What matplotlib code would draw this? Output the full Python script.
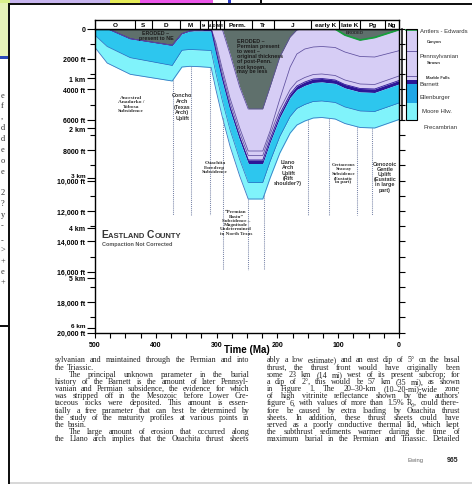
import numpy as np
import matplotlib
matplotlib.use("Agg")
import matplotlib.pyplot as plt
from matplotlib.patches import Rectangle
from matplotlib.lines import Line2D
import matplotlib.transforms as mtransforms
from matplotlib.ticker import FixedLocator, NullFormatter

# ------------------------------------------------------------------ data
time_ma = [500, 480, 442, 373, 357, 344, 327, 309, 301, 291, 278, 262, 248,
           224, 212, 196, 179, 168, 155, 141, 127, 105, 89, 64, 40, 0]
top_preserved_ft = [0, 0, 670, 1105, 342, 164, 100, 0, 0, 0, 1678, 3849, 5296,
                    5296, 3849, 1875, 560, 100, 0, 0, 0, 30, 428, 757, 592, 80]
canyon_base_ft = [0, 0, 670, 1105, 342, 164, 100, 0, 954, 2599, 4572, 6546, 8059,
                  8059, 6743, 4638, 2533, 1678, 1349, 1217, 1184, 1250, 1546, 1842, 1875, 1461]
strawn_base_ft = [0, 0, 670, 1105, 342, 164, 100, 0, 1184, 2895, 4868, 6842, 8355,
                  8355, 6974, 5329, 4013, 3487, 3224, 3026, 2993, 3092, 3388, 3651, 3684, 3125]
barnett_top_ft = [0, 0, 670, 1105, 342, 164, 100, 0, 1480, 3191, 5164, 7138, 8651,
                  8651, 7270, 5625, 4309, 3783, 3520, 3322, 3289, 3388, 3684, 3947, 3980, 3421]
barnett_base_ft = [0, 0, 670, 1105, 342, 164, 164, 164, 1711, 3421, 5395, 7368, 8882,
                   8882, 7500, 5855, 4539, 4013, 3750, 3553, 3520, 3618, 3914, 4178, 4211, 3651]
ellenburger_base_ft = [447, 1184, 1921, 2434, 1434, 1382, 1414, 1447, 2961, 4671, 6645, 8618, 10132,
                       10132, 8750, 7105, 5789, 5263, 5000, 4803, 4770, 4868, 5164, 5428, 5461, 4901]
moore_hollow_base_ft = [1250, 2270, 3013, 3454, 2533, 2487, 2513, 2566, 4046, 5757, 7730, 9704, 11217,
                        11217, 9836, 8191, 6875, 6349, 6086, 5888, 5855, 5954, 6250, 6513, 6546, 5987]

period_bounds_ma = [500, 435, 407, 360, 327, 314, 308, 301, 294, 288, 242, 206, 144, 99, 64, 23, 0]
period_labels = ["O", "S", "D", "M", "Mr", "A", "D", "M", "V", "Perm.", "Tr", "J",
                 "early K", "late K", "Pg", "Ng"]

event_ma = [372, 342, 311, 290, 248, 222, 150, 115, 69, 44]
event_base_ft = [12300, 12300, 12300, 15900, 15900, 15900, 12300, 12300, 12300, 12300]

ft_ticks = list(range(0, 20001, 2000))
ft_labels = ["0"] + ["%d ft" % v if v < 10000 else "{:,} ft".format(v) for v in ft_ticks[1:]]
km_ticks = [1, 2, 3, 4, 5, 6]
time_ticks = [500, 400, 300, 200, 100, 0]

strat_names = ["Antlers - Edwards", "Canyon", "Pennsylvanian", "Strawn", "Marble Falls",
               "Barnett", "Ellenburger", "Moore Hlw.", "Precambrian"]

left_col = [
    "sylvanian and maintained through the Permian and into",
    "the Triassic.",
    "The principal unknown parameter in the burial",
    "history of the Barnett is the amount of later Pennsyl-",
    "vanian and Permian subsidence, the evidence for which",
    "was stripped off in the Mesozoic before Lower Cre-",
    "taceous rocks were deposited. This amount is essen-",
    "tially a free parameter that can best be determined by",
    "the study of the maturity profiles at various points in",
    "the basin.",
    "The large amount of erosion that occurred along",
    "the Llano arch implies that the Ouachita thrust sheets",
]
right_col = [
    "ably a low estimate) and an east dip of 5\u00b0 on the basal",
    "thrust, the thrust front would have originally been",
    "some 23 km (14 mi) west of its present subcrop; for",
    "a dip of 2\u00b0, this would be 57 km (35 mi), as shown",
    "in Figure 1. The 20\u201330-km (10\u201320-mi)-wide zone",
    "of high vitrinite reflectance shown by the authors'",
    "figure 6, with values of more than 1.5% R\u2080, could there-",
    "fore be caused by extra loading by Ouachita thrust",
    "sheets. In addition, these thrust sheets could have",
    "served as a poorly conductive thermal lid, which kept",
    "the subthrust sediments warmer during the time of",
    "maximum burial in the Permian and Triassic. Detailed",
]

# ------------------------------------------------------------------ style
W, H = 472, 485
GRAY = "#5f706c"
LAV = "#d6cdf5"
LAVLINE = "#5e4f9e"
BARN = "#2c1697"
CYAN = "#2dc6ee"
LCYAN = "#80f3fb"
LEG_CYAN = "#1fa6e6"
GREEN = "#17a03c"
DOT = "#7884a8"
SANS = ["Liberation Sans", "DejaVu Sans"]
SERIF = ["Liberation Serif", "DejaVu Serif"]
TXT = "#222222"

fig = plt.figure(figsize=(W / 100, H / 100), dpi=100)
fig.patch.set_facecolor("white")


def fx(x):
    return x / W


def fy(y):
    return 1 - y / H


def prect(x, y, w, h, color, z=0):
    fig.add_artist(Rectangle((fx(x), fy(y + h)), w / W, h / H, transform=fig.transFigure,
                             facecolor=color, edgecolor="none", zorder=z))


# ------------------------------------------------------------------ background decorations
prect(0, 0, 10, 4, "#d9ef8c")
prect(10, 0, 100, 4, "#c7b5ef")
prect(110, 0, 30, 4, "#e6ec58")
prect(140, 0, 73, 4, "#ec58ea")
prect(228, 0, 3, 4, "#2a3bc8")
prect(260, 0, 2, 4, "#111111")
prect(0, 4, 8, 53, "#e6f2b8")
prect(0, 57, 8, 2.5, "#2a47b8")
prect(0, 325.5, 8, 2, "#111111")
prect(8, 4, 464, 2, "#111111", z=5)
prect(8, 4, 2, 481, "#111111", z=5)
prect(10, 483, 462, 2, "#d8d8d8")
for yy, ch in [(96, "e"), (106, "f"), (117, ","), (128, "d"), (139, "d"), (150, "e"),
               (161, "o"), (172, "e"), (193, "2"), (204, "?"), (215, "y"), (226, "-"),
               (241, "-"), (251, ">"), (261, "+"), (272, "e"), (282, "+")]:
    fig.text(fx(1), fy(yy), ch, fontsize=6, family=SERIF, color="#333333", va="center", ha="left")

# ------------------------------------------------------------------ main axes
ax_l, ax_r, ax_t, ax_b = 95, 399, 29.5, 333.5
ax = fig.add_axes([fx(ax_l), fy(ax_b), (ax_r - ax_l) / W, (ax_b - ax_t) / H])
ax.set_xlim(500, 0)
ax.set_ylim(20000, 0)
ax.set_facecolor("white")

t = np.array(time_ma, float)
h0 = np.array(top_preserved_ft, float)
h1 = np.array(canyon_base_ft, float)
h2 = np.array(strawn_base_ft, float)
h3 = np.array(barnett_top_ft, float)
h4 = np.array(barnett_base_ft, float)
h5 = np.array(ellenburger_base_ft, float)
h6 = np.array(moore_hollow_base_ft, float)

ax.fill_between(t, 0, h0, color=GRAY, lw=0, zorder=1)
ax.fill_between(t, h0, h3, color=LAV, lw=0, zorder=1)
ax.fill_between(t, h3, h4, color=BARN, lw=0, zorder=1)
ax.fill_between(t, h4, h5, color=CYAN, lw=0, zorder=1)
ax.fill_between(t, h5, h6, color=LCYAN, lw=0, zorder=1)
ax.plot(t, h6, color="#3a78c4", lw=0.6, zorder=2)
ax.plot(t, h5, color="#2b6cc0", lw=0.5, zorder=2)
ax.plot(t, h1, color=LAVLINE, lw=0.55, zorder=2)
ax.plot(t, h2, color=LAVLINE, lw=0.55, zorder=2)
ax.plot(t, h3, color=BARN, lw=0.6, zorder=2)
ax.plot(t, h0, color=LAVLINE, lw=0.6, zorder=2)
kmask = t <= 105
ax.plot(t[kmask], h0[kmask], color=GREEN, lw=1.3, zorder=3)

# event boundaries (dotted)
for e, b in zip(event_ma, event_base_ft):
    top = np.interp(e, t[::-1], h6[::-1])
    ax.plot([e, e], [top, b], color=DOT, lw=0.75, ls=(0, (1, 1)), zorder=2)

# axis ticks
ax.yaxis.set_major_locator(FixedLocator(ft_ticks + [k * 3280.84 for k in km_ticks]))
ax.set_yticklabels(ft_labels + ["%d km" % k for k in km_ticks])
ax.yaxis.set_minor_locator(FixedLocator(list(range(1000, 20000, 2000))))
ax.yaxis.set_minor_formatter(NullFormatter())
ax.tick_params(axis="y", which="major", length=5.8, width=0.8, pad=1.2, direction="out",
               labelsize=5, colors="black")
ax.tick_params(axis="y", which="minor", length=3.6, width=0.8, direction="out")
nudge = mtransforms.ScaledTranslation(0, 2.2 / 72, fig.dpi_scale_trans)
for lab in ax.get_yticklabels():
    lab.set_fontweight("bold")
    lab.set_family(SANS)
    if lab.get_text() in ("3 km", "6 km"):
        lab.set_transform(lab.get_transform() + nudge)
        lab.set_fontsize(4.6)

ax.xaxis.set_major_locator(FixedLocator(time_ticks))
ax.set_xticklabels([str(v) for v in time_ticks])
ax.xaxis.set_minor_locator(FixedLocator(list(range(25, 500, 25))))
ax.tick_params(axis="x", which="both", length=3.6, width=0.8, pad=2.5, direction="out",
               labelsize=5)
for lab in ax.get_xticklabels():
    lab.set_fontweight("bold")
    lab.set_family(SANS)
for s in ax.spines.values():
    s.set_linewidth(1.0)
    s.set_color("black")

ax.set_xlabel("Time (Ma)", fontsize=7, fontweight="bold", family=SANS, labelpad=-3.2)
ax.xaxis.label.set_zorder(10)

axr = ax.twinx()
axr.set_ylim(20000, 0)
axr.yaxis.set_major_locator(FixedLocator(list(range(0, 20001, 1000))))
axr.yaxis.set_major_formatter(NullFormatter())
axr.tick_params(axis="y", length=4.3, width=0.8, direction="out")
for s in axr.spines.values():
    s.set_visible(False)

# annotations in chart
def note(x, y, s, fs=3.9, fam=SERIF, ls=1.1, **kw):
    kw.setdefault("ha", "center")
    kw.setdefault("va", "center")
    ax.text(x, y, s, fontsize=fs, family=fam, fontweight="bold", linespacing=ls,
            color=kw.pop("color", TXT), zorder=6, **kw)

note(399.7, 414, "ERODED \u2013\npresent to NE", fs=3.8, fam=SANS, ls=1.0, color="#1c1c1c")
note(267, 625, "ERODED \u2013\nPermian present\nto west \u2013\noriginal thickness\nof post-Penn.\n"
     "not known,\nmay be less", fs=3.9, fam=SANS, ls=1.02, ha="left", va="top", color="#1c1c1c")
note(72.4, 263, "ERODED", fs=3.1, fam=SANS, color="#2a2a2a")
note(440.8, 4934, "Ancestral\nAnadarko /\nTobosa\nSubsidence", fs=3.9, ls=1.12, color="#333333")
note(356.4, 5099, "Concho\nArch\n(Texas\nArch)\nUplift", fs=3.9, fam=SANS, ls=1.15, color="#333333")
note(302.6, 9099, "Ouachita\nForedeep\nSubsidence", fs=3.9, ls=1.12, color="#333333")
note(268, 12730, "\u201cPermian\nBasin\u201d\nSubsidence \u2013\nMagnitude\nUndetermined\nin North Texas",
     fs=3.7, ls=1.08, color="#333333")
note(182, 9441, "Llano\nArch\nUplift\n(Rift\nshoulder?)", fs=3.9, fam=SANS, ls=1.08, color="#333333")
note(91.6, 9487, "Cretaceous\nSeaway\nSubsidence\n(Eustatic\nin part)", fs=3.6, ls=1.1, color="#333333")
note(23, 9704, "Cenozoic\nGentle\nUplift\n(Eustatic\nin large\npart)", fs=3.9, fam=SANS, ls=1.05,
     color="#333333")

# ------------------------------------------------------------------ period bar
axb = fig.add_axes([fx(ax_l), fy(ax_t), (ax_r - ax_l) / W, 8.5 / H])
axb.set_xlim(500, 0)
axb.set_ylim(0, 1)
axb.set_xticks([])
axb.set_yticks([])
for s in axb.spines.values():
    s.set_linewidth(1.0)
for b in period_bounds_ma[1:-1]:
    axb.axvline(b, color="black", lw=0.8)
for a, b, lab in zip(period_bounds_ma[:-1], period_bounds_ma[1:], period_labels):
    small = (a - b) < 20
    axb.text((a + b) / 2, 0.45, lab, ha="center", va="center",
             fontsize=2.3 if small else 4.6, fontweight="bold", family=SANS)

# ------------------------------------------------------------------ stratigraphic column
trans = mtransforms.blended_transform_factory(fig.transFigure, ax.transData)
col_l, col_r = 405.7, 416.7
present = [h0[-1], h1[-1], h2[-1], h3[-1], h4[-1], h5[-1], h6[-1]]
col_colors = [LAV, LAV, LAV, BARN, LEG_CYAN, LCYAN]
for (ya, yb), c in zip(zip(present[:-1], present[1:]), col_colors):
    fig.add_artist(Rectangle((fx(col_l), ya), (col_r - col_l) / W, yb - ya, transform=trans,
                             facecolor=c, edgecolor="none", zorder=3))
for yv in present[1:3]:
    fig.add_artist(Line2D([fx(col_l), fx(col_r)], [yv, yv], transform=trans, color=LAVLINE, lw=0.6, zorder=4))
fig.add_artist(Line2D([fx(col_l), fx(col_r)], [present[0], present[0]], transform=trans,
                      color=GREEN, lw=1.2, zorder=5))
fig.add_artist(Rectangle((fx(col_l), 0), (col_r - col_l) / W, present[-1], transform=trans,
                         facecolor="none", edgecolor="black", lw=0.8, zorder=5))
fig.add_artist(Line2D([fx(402), fx(402)], [0, present[-1]], transform=trans, color="black", lw=1.1, zorder=5))

strat_pos = [(420, 118, 4.3, "normal"), (426.5, 842, 3.0, "bold"), (420, 1763, 4.3, "normal"),
             (426.5, 2204, 3.0, "bold"), (426.5, 3191, 3.0, "bold"), (420, 3586, 4.3, "normal"),
             (420, 4441, 4.3, "normal"), (422, 5382, 4.3, "normal"), (423, 6434, 4.3, "normal")]
for name, (xp, yv, fs, wt) in zip(strat_names, strat_pos):
    fig.text(fx(xp), yv, name, transform=trans, fontsize=fs, fontweight=wt, family=SANS,
             color="#333333", va="center", ha="left")

# ------------------------------------------------------------------ title inside chart
renderer = fig.canvas.get_renderer()


def seq_text(x0, y, parts, **kw):
    x = x0
    for s, fs in parts:
        o = fig.text(fx(x), fy(y), s, fontsize=fs, va="baseline", ha="left", **kw)
        x += o.get_window_extent(renderer).width


seq_text(101.7, 238.5, [("E", 7.4), ("ASTLAND ", 5.5), ("C", 7.4), ("OUNTY", 5.5)],
         family=SANS, fontweight="bold", color="#333333", zorder=7)
fig.text(fx(101.7), fy(245), "Compaction Not Corrected", fontsize=4.0, fontweight="bold",
         family=SANS, color="#555555", va="center", ha="left", zorder=7)

# ------------------------------------------------------------------ body text
def justified(lines, x0, x1, y0, dy, fs, indent_rows, ragged_rows):
    sp = fig.text(0, 0, "a a", fontsize=fs, family=SERIF)
    sp2 = fig.text(0, 0, "aa", fontsize=fs, family=SERIF)
    space_w = sp.get_window_extent(renderer).width - sp2.get_window_extent(renderer).width
    sp.remove()
    sp2.remove()
    for i, line in enumerate(lines):
        y = y0 + i * dy
        xs = x0 + (14 if i in indent_rows else 0)
        words = line.split(" ")
        objs = [fig.text(0, 0, w, fontsize=fs, family=SERIF, color=TXT, va="center", ha="left")
                for w in words]
        widths = [o.get_window_extent(renderer).width for o in objs]
        if i in ragged_rows or len(words) == 1:
            gap = space_w
        else:
            gap = (x1 - xs - sum(widths)) / (len(words) - 1)
        x = xs
        for o, wdt in zip(objs, widths):
            o.set_position((fx(x), fy(y)))
            x += wdt + gap


justified(left_col, 55, 249, 360.5, 7.15, 5.8, indent_rows={2, 10}, ragged_rows={1, 9})
justified(right_col, 267, 460, 360.5, 7.15, 5.8, indent_rows=set(), ragged_rows=set())

fig.text(fx(407), fy(461), "Ewing", fontsize=4.2, family=SANS, color="#666666", va="center", ha="left")
fig.text(fx(447), fy(461), "965", fontsize=5, family=SANS, fontweight="bold", color="#222222",
         va="center", ha="left")

fig.savefig("out.png", dpi=100, facecolor="white")
